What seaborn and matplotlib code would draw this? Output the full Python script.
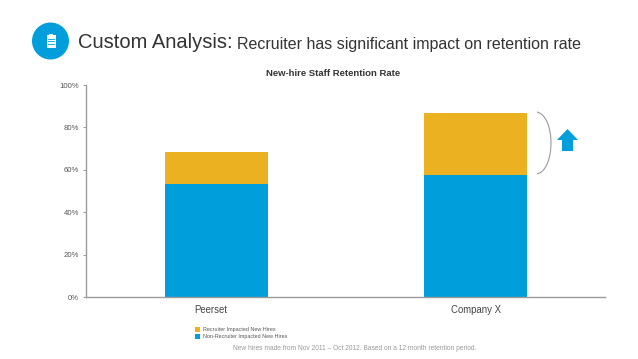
import matplotlib
matplotlib.use("Agg")
import matplotlib.pyplot as plt
import matplotlib.transforms as mtransforms
import pandas as pd
import seaborn as sns
from matplotlib.patches import Circle, FancyArrow, PathPatch, Rectangle
from matplotlib.path import Path

categories = ["Peerset", "Company X"]
non_recruiter = [53.3, 57.5]
recruiter = [15.1, 29.3]
y_ticks = [0, 20, 40, 60, 80, 100]
y_labels = ["0%", "20%", "40%", "60%", "80%", "100%"]

BLUE = "#009fdb"
YELLOW = "#ecb120"
GREY = "#9a9a9a"
DARK = "#333333"

W, H = 638, 359


def axes_box(left, top, right, bottom):
    return [left / W, 1 - bottom / H, (right - left) / W, (bottom - top) / H]


def draw_bars(ax, fig):
    df = pd.DataFrame({"group": categories, "non": non_recruiter, "rec": recruiter})
    sns.barplot(data=df, x="group", y="non", color=BLUE, width=0.398, saturation=1, ax=ax)
    sns.barplot(data=df, x="group", y="rec", bottom=df["non"], color=YELLOW, width=0.398, saturation=1, ax=ax)
    ax.set_xlim(-0.504, 1.5)
    ax.set_ylim(0, 100)
    ax.set_xlabel("")
    ax.set_ylabel("")
    ax.set_yticks(y_ticks)
    ax.set_yticklabels(y_labels, fontsize=5.6, color="#555555")
    ax.tick_params(axis="y", length=2.5, width=0.7, color=GREY, pad=2.5)
    ax.tick_params(axis="x", length=0, pad=5.5, labelsize=6.9, labelcolor="#444444")
    sns.despine(ax=ax)
    for side in ["left", "bottom"]:
        ax.spines[side].set_color(GREY)
        ax.spines[side].set_linewidth(1)
    # the Peerset label sits a little left of its bar in the original
    shift = mtransforms.ScaledTranslation(-6 / 100, 0, fig.dpi_scale_trans)
    first = ax.get_xticklabels()[0]
    first.set_transform(first.get_transform() + shift)


def draw_decorations(ov):
    # header icon
    ov.add_patch(Circle((50.5, 41), 18.5, color=BLUE, lw=0))
    ov.add_patch(Rectangle((46.5, 34.5), 9, 13, color="white", lw=0))
    ov.add_patch(Rectangle((49, 33.5), 4, 2.5, color="white", lw=0))
    for y in [38.5, 41, 43.5]:
        ov.plot([47.8, 54.2], [y, y], color=BLUE, lw=0.6)

    ov.text(78, 48.5, "Custom Analysis:", fontsize=14.5, color=DARK, va="baseline")
    ov.text(237, 48.5, "Recruiter has significant impact on retention rate",
            fontsize=11.5, color=DARK, va="baseline")
    ov.text(333, 73, "New-hire Staff Retention Rate", fontsize=6.8, weight="bold",
            color=DARK, ha="center", va="center")

    # bracket and up arrow
    verts = [(537, 112), (546, 114), (551, 128), (551, 143), (551, 158), (546, 172), (537, 174)]
    codes = [Path.MOVETO] + [Path.CURVE4] * 6
    ov.add_patch(PathPatch(Path(verts, codes), fc="none", ec=GREY, lw=0.8))
    ov.add_patch(FancyArrow(567.5, 151, 0, -22, width=11, head_width=21, head_length=11,
                            length_includes_head=True, color=BLUE, lw=0))

    # legend
    ov.add_patch(Rectangle((195, 327), 5, 5, color=YELLOW, lw=0))
    ov.add_patch(Rectangle((195, 334), 5, 5, color=BLUE, lw=0))
    ov.text(203, 329.5, "Recruiter Impacted New Hires", fontsize=3.9, color="#555555", va="center")
    ov.text(203, 336.5, "Non-Recruiter Impacted New Hires", fontsize=3.9, color="#555555", va="center")
    ov.text(355, 348.5, "New hires made from Nov 2011 \u2013 Oct 2012. Based on a 12 month retention period.",
            fontsize=4.8, color="#999999", ha="center", va="center")


def main():
    plt.rcParams["font.family"] = ["Liberation Sans", "DejaVu Sans"]
    fig = plt.figure(figsize=(W / 100, H / 100), dpi=100, facecolor="white")
    ax = fig.add_axes(axes_box(86, 85, 605, 297))
    draw_bars(ax, fig)

    ov = fig.add_axes([0, 0, 1, 1])
    ov.set_xlim(0, W)
    ov.set_ylim(H, 0)
    ov.axis("off")
    ov.patch.set_alpha(0)
    draw_decorations(ov)

    fig.savefig("out.png", dpi=100)
    plt.close(fig)


if __name__ == "__main__":
    main()
